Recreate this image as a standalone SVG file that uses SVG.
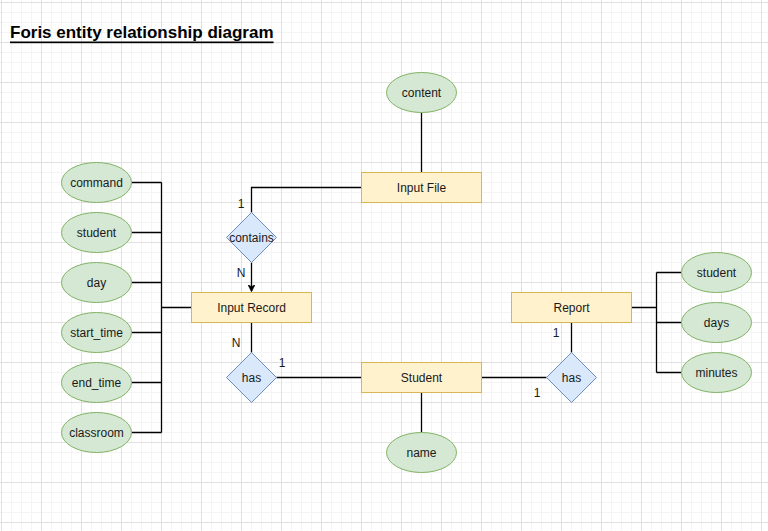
<svg xmlns="http://www.w3.org/2000/svg" width="768" height="531" viewBox="0 0 768 531">
<style>
text{font-family:"Liberation Sans",Arial,Helvetica,sans-serif;font-size:12px;fill:#1a1a1a;text-anchor:middle;dominant-baseline:central}
.ent{fill:#fff2cc;stroke:#d6b656;stroke-width:1}
.att{fill:#d5e8d4;stroke:#82b366;stroke-width:1}
.rel{fill:#dae8fc;stroke:#6c8ebf;stroke-width:1}
.con{fill:none;stroke:#000;stroke-width:1.3}
.card{text-anchor:middle}
</style>
<defs>
<pattern id="grid" x="1" y="2" width="40" height="40" patternUnits="userSpaceOnUse">
<path d="M10.5 0V40M20.5 0V40M30.5 0V40M0 10.5H40M0 20.5H40M0 30.5H40" stroke="#f4f4f4" stroke-width="1" fill="none"/>
<path d="M0.5 0V40M0 0.5H40" stroke="#e0e0e0" stroke-width="1" fill="none"/>
</pattern>
<marker id="arr" viewBox="0 0 10 10" refX="9" refY="5" markerWidth="7" markerHeight="7" markerUnits="userSpaceOnUse" orient="auto">
<path d="M0 0L10 5L0 10L3 5Z" fill="#000" stroke="#000"/>
</marker>
</defs>
<rect width="768" height="531" fill="#fff"/>
<rect width="768" height="531" fill="url(#grid)"/>
<text x="10" y="32" style="font-size:17px;font-weight:bold;text-anchor:start;text-decoration:underline;fill:#000">Foris entity relationship diagram</text>
<g id="connectors">
<path class="con" d="M421.5 112.5V172.5"/>
<path class="con" d="M361.5 187.5H251.5V212.5"/>
<path class="con" d="M251.5 262.5V291" marker-end="url(#arr)"/>
<path class="con" d="M131.5 182.5H161.5M131.5 232.5H161.5M131.5 282.5H161.5M131.5 332.5H161.5M131.5 382.5H161.5M131.5 432.5H161.5M161.5 182.5V432.5M161.5 307.5H191.5"/>
<path class="con" d="M251.5 322.5V352.5"/>
<path class="con" d="M276.5 377.5H361.5"/>
<path class="con" d="M421.5 392.5V432.5"/>
<path class="con" d="M481.5 377.5H546.5"/>
<path class="con" d="M571.5 322.5V352.5"/>
<path class="con" d="M631.5 307.5H656.5M656.5 272.5V372.5M656.5 272.5H681.5M656.5 322.5H681.5M656.5 372.5H681.5"/>
<text x="241" y="204">1</text>
<text x="241" y="273">N</text>
<text x="236" y="343">N</text>
<text x="282" y="363">1</text>
<text x="556" y="333">1</text>
<text x="537" y="393">1</text>
</g>
<g id="content"><ellipse class="att" cx="421.5" cy="92.5" rx="35" ry="20"/><text x="421.5" y="93">content</text></g>
<g id="input-file"><rect class="ent" x="361.5" y="172.5" width="120" height="30"/><text x="421.5" y="188">Input File</text></g>
<g id="contains"><path class="rel" d="M251.5 212.5L276.5 237.5L251.5 262.5L226.5 237.5Z"/><text x="251.5" y="238">contains</text></g>
<g id="input-record"><rect class="ent" x="191.5" y="292.5" width="120" height="30"/><text x="251.5" y="308">Input Record</text></g>
<g id="command"><ellipse class="att" cx="96.5" cy="182.5" rx="35" ry="20"/><text x="96.5" y="183">command</text></g>
<g id="student-attr"><ellipse class="att" cx="96.5" cy="232.5" rx="35" ry="20"/><text x="96.5" y="233">student</text></g>
<g id="day"><ellipse class="att" cx="96.5" cy="282.5" rx="35" ry="20"/><text x="96.5" y="283">day</text></g>
<g id="start_time"><ellipse class="att" cx="96.5" cy="332.5" rx="35" ry="20"/><text x="96.5" y="333">start_time</text></g>
<g id="end_time"><ellipse class="att" cx="96.5" cy="382.5" rx="35" ry="20"/><text x="96.5" y="383">end_time</text></g>
<g id="classroom"><ellipse class="att" cx="96.5" cy="432.5" rx="35" ry="20"/><text x="96.5" y="433">classroom</text></g>
<g id="has-left"><path class="rel" d="M251.5 352.5L276.5 377.5L251.5 402.5L226.5 377.5Z"/><text x="251.5" y="378">has</text></g>
<g id="student"><rect class="ent" x="361.5" y="362.5" width="120" height="30"/><text x="421.5" y="378">Student</text></g>
<g id="name"><ellipse class="att" cx="421.5" cy="452.5" rx="35" ry="20"/><text x="421.5" y="453">name</text></g>
<g id="has-right"><path class="rel" d="M571.5 352.5L596.5 377.5L571.5 402.5L546.5 377.5Z"/><text x="571.5" y="378">has</text></g>
<g id="report"><rect class="ent" x="511.5" y="292.5" width="120" height="30"/><text x="571.5" y="308">Report</text></g>
<g id="report-student"><ellipse class="att" cx="716.5" cy="272.5" rx="35" ry="20"/><text x="716.5" y="273">student</text></g>
<g id="days"><ellipse class="att" cx="716.5" cy="322.5" rx="35" ry="20"/><text x="716.5" y="323">days</text></g>
<g id="minutes"><ellipse class="att" cx="716.5" cy="372.5" rx="35" ry="20"/><text x="716.5" y="373">minutes</text></g>
</svg>
